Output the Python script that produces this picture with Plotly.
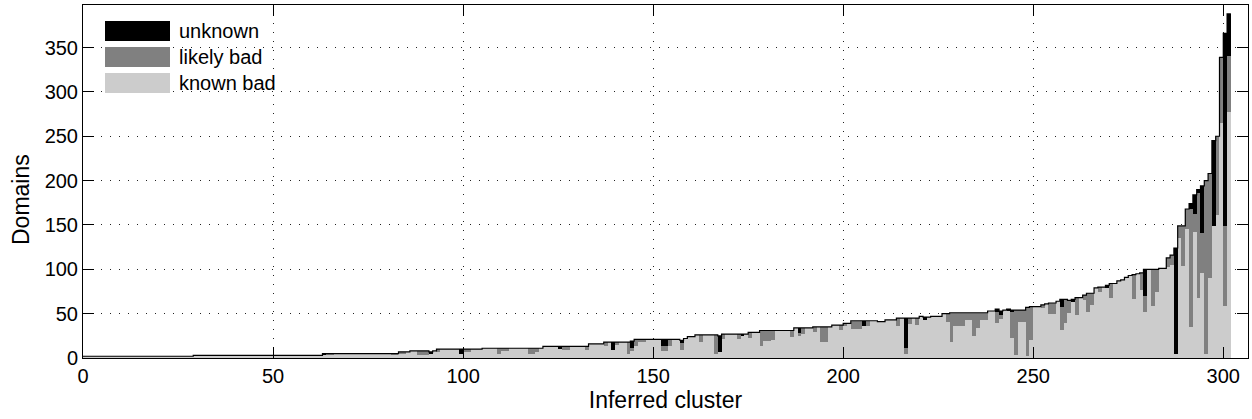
import plotly.graph_objects as go

# ---------------- data ----------------
# clusters are sorted by their total number of domains; cluster k spans [k, k+1]
n_clusters = 302
cluster_ids = list(range(n_clusters))

known_bad = [
    2, 2, 2, 2, 2, 2, 2, 2, 2, 2, 2, 2, 2, 2, 2, 2, 2, 2, 2, 2,
    2, 2, 2, 2, 2, 2, 2, 2, 2, 3, 3, 3, 3, 3, 3, 3, 3, 3, 3, 3,
    3, 3, 3, 3, 3, 3, 3, 3, 3, 3, 3, 3, 3, 3, 3, 3, 3, 3, 3, 3,
    3, 3, 3, 4, 4, 4, 5, 5, 5, 5, 5, 5, 5, 5, 5, 5, 5, 5, 5, 5,
    5, 4, 4, 5, 5, 7, 8, 8, 3, 3, 3, 5, 8, 7, 10, 10, 10, 10, 10, 5,
    7, 7, 10, 10, 10, 11, 11, 11, 11, 4, 9, 9, 11, 11, 11, 11, 11, 4, 4, 7,
    11, 13, 13, 13, 13, 10, 9, 9, 13, 13, 13, 13, 9, 16, 16, 16, 16, 13, 18, 9,
    15, 18, 18, 5, 8, 14, 19, 19, 21, 21, 21, 21, 8, 8, 14, 21, 21, 9, 22, 24,
    24, 26, 18, 26, 26, 26, 5, 7, 21, 27, 27, 27, 21, 25, 27, 23, 29, 29, 14, 19,
    19, 20, 31, 31, 31, 31, 24, 34, 25, 27, 34, 34, 29, 35, 18, 18, 35, 37, 37, 32,
    36, 39, 33, 33, 33, 36, 36, 42, 42, 41, 41, 43, 43, 43, 36, 45, 5, 38, 45, 37,
    47, 43, 46, 47, 47, 47, 50, 41, 18, 36, 36, 36, 43, 43, 25, 34, 43, 43, 53, 53,
    40, 44, 54, 53, 22, 3, 41, 41, 2, 20, 58, 58, 56, 61, 50, 50, 64, 32, 40, 51,
    64, 48, 68, 65, 52, 60, 79, 74, 80, 80, 68, 84, 87, 88, 91, 93, 66, 95, 77, 52,
    100, 59, 74, 101, 101, 103, 105, 5, 135, 104, 145, 35, 142, 68, 96, 4, 90, 149, 161, 265,
    59, 277,
]

likely_bad = [
    0, 0, 0, 0, 0, 0, 0, 0, 0, 0, 0, 0, 0, 0, 0, 0, 0, 0, 0, 0,
    0, 0, 0, 0, 0, 0, 0, 0, 0, 0, 0, 0, 0, 0, 0, 0, 0, 0, 0, 0,
    0, 0, 0, 0, 0, 0, 0, 0, 0, 0, 0, 0, 0, 0, 0, 0, 0, 0, 0, 0,
    0, 0, 0, 0, 1, 1, 0, 0, 0, 0, 0, 0, 0, 0, 0, 0, 0, 0, 0, 0,
    0, 1, 1, 2, 2, 0, 0, 0, 5, 5, 5, 0, 0, 3, 0, 0, 0, 0, 0, 0,
    3, 3, 0, 0, 0, 0, 0, 0, 0, 7, 2, 2, 0, 0, 0, 0, 0, 7, 7, 4,
    0, 0, 0, 0, 0, 0, 4, 4, 0, 0, 0, 0, 4, 0, 0, 0, 0, 5, 0, 0,
    3, 0, 0, 13, 3, 7, 2, 2, 0, 0, 0, 0, 6, 6, 7, 0, 0, 8, 0, 0,
    0, 0, 8, 0, 0, 0, 21, 0, 6, 0, 0, 0, 6, 0, 0, 6, 0, 0, 17, 12,
    12, 11, 0, 0, 0, 0, 7, 0, 3, 7, 0, 0, 6, 0, 17, 17, 0, 0, 0, 5,
    3, 0, 9, 9, 9, 0, 6, 0, 0, 0, 0, 0, 0, 0, 9, 0, 6, 7, 0, 8,
    0, 0, 0, 0, 0, 0, 0, 9, 33, 15, 15, 15, 8, 8, 26, 17, 8, 8, 0, 0,
    12, 5, 0, 0, 30, 51, 13, 13, 55, 38, 0, 0, 4, 0, 12, 12, 0, 26, 26, 14,
    0, 20, 0, 6, 21, 13, 0, 6, 0, 0, 16, 0, 0, 0, 0, 0, 28, 0, 19, 18,
    0, 41, 26, 0, 0, 10, 11, 0, 14, 45, 23, 133, 20, 118, 45, 196, 118, 0, 89, 74,
    90, 64,
]

unknown = [
    0, 0, 0, 0, 0, 0, 0, 0, 0, 0, 0, 0, 0, 0, 0, 0, 0, 0, 0, 0,
    0, 0, 0, 0, 0, 0, 0, 0, 0, 0, 0, 0, 0, 0, 0, 0, 0, 0, 0, 0,
    0, 0, 0, 0, 0, 0, 0, 0, 0, 0, 0, 0, 0, 0, 0, 0, 0, 0, 0, 0,
    0, 0, 0, 1, 0, 0, 0, 0, 0, 0, 0, 0, 0, 0, 0, 0, 0, 0, 0, 0,
    0, 0, 0, 0, 0, 0, 0, 0, 0, 0, 0, 2, 0, 0, 0, 0, 0, 0, 0, 5,
    0, 0, 0, 0, 0, 0, 0, 0, 0, 0, 0, 0, 0, 0, 0, 0, 0, 0, 0, 0,
    0, 0, 0, 0, 0, 3, 0, 0, 0, 0, 0, 0, 0, 0, 0, 0, 0, 0, 0, 9,
    0, 0, 0, 0, 8, 0, 0, 0, 0, 0, 0, 0, 7, 7, 0, 0, 0, 3, 0, 0,
    0, 0, 0, 0, 0, 0, 0, 18, 0, 0, 0, 0, 0, 2, 0, 0, 0, 0, 0, 0,
    0, 0, 0, 0, 0, 0, 0, 0, 6, 0, 0, 0, 0, 0, 0, 0, 0, 0, 0, 0,
    0, 0, 0, 0, 0, 6, 0, 0, 0, 0, 0, 0, 0, 0, 0, 0, 34, 0, 0, 0,
    0, 3, 0, 0, 0, 0, 0, 0, 0, 0, 0, 0, 0, 0, 0, 0, 0, 0, 0, 0,
    3, 4, 0, 2, 2, 0, 0, 0, 0, 0, 0, 0, 0, 0, 0, 0, 0, 8, 0, 0,
    2, 0, 0, 0, 0, 0, 0, 0, 0, 2, 0, 0, 0, 0, 0, 0, 0, 0, 0, 30,
    0, 0, 0, 0, 0, 0, 0, 119, 0, 0, 0, 6, 22, 4, 53, 0, 0, 96, 0, 0,
    217, 47,
]

series_names = ["known bad", "likely bad", "unknown"]
series_colors = ["#cccccc", "#808080", "#000000"]
legend_order = ["unknown", "likely bad", "known bad"]

x_ticks = [0, 50, 100, 150, 200, 250, 300]
y_ticks = [0, 50, 100, 150, 200, 250, 300, 350]
x_title = "Inferred cluster"
y_title = "Domains"

# ---------------- figure ----------------
W, H = 1252, 419
M_L, M_R, M_T, M_B = 83, 4, 5, 61
PLOT_W = W - M_L - M_R
PLOT_H = H - M_T - M_B
FONT = "Liberation Sans, Arial, Helvetica, sans-serif"

fig = go.Figure()
x_centers = [c + 0.5 for c in cluster_ids]
values = [known_bad, likely_bad, unknown]
for name, vals, color in zip(series_names, values, series_colors):
    fig.add_trace(go.Bar(
        x=x_centers, y=vals, width=1, name=name,
        marker=dict(color=color, line=dict(width=0)),
        showlegend=False,
    ))

# outline of the stacked totals (stairs)
totals = [a + b + c for a, b, c in zip(known_bad, likely_bad, unknown)]
fig.add_trace(go.Scatter(
    x=cluster_ids + [n_clusters], y=totals + [totals[-1]],
    mode="lines", line=dict(color="black", width=1.2, shape="hv"),
    hoverinfo="skip", showlegend=False,
))

# legend drawn as wide MATLAB-style swatches
def px_to_paper_x(px):
    return (px - M_L) / PLOT_W

def py_to_paper_y(py):
    return (H - M_B - py) / PLOT_H

shapes, annotations = [], []
for k, name in enumerate(legend_order):
    color = series_colors[series_names.index(name)]
    yc = 31 + 26 * k
    shapes.append(dict(
        type="rect", xref="paper", yref="paper",
        x0=px_to_paper_x(105), x1=px_to_paper_x(170),
        y0=py_to_paper_y(yc + 10), y1=py_to_paper_y(yc - 10),
        fillcolor=color, line=dict(width=0), layer="above",
    ))
    annotations.append(dict(
        xref="paper", yref="paper", x=px_to_paper_x(177), y=py_to_paper_y(yc),
        xanchor="left", yanchor="middle", text=name, showarrow=False,
        font=dict(size=20, color="black", family=FONT),
    ))

# y-axis title placed like the MATLAB ylabel
annotations.append(dict(
    xref="paper", yref="paper", x=px_to_paper_x(21), y=py_to_paper_y(200),
    xanchor="center", yanchor="middle", text=y_title, textangle=-90,
    showarrow=False, font=dict(size=23, color="black", family=FONT),
))

axis_common = dict(
    ticks="inside", ticklen=11, tickwidth=1, tickcolor="black",
    mirror="allticks", showline=True, linecolor="black", linewidth=1,
    showgrid=True, gridcolor="#222222", gridwidth=1, griddash="1px,8px",
    zeroline=False, tickfont=dict(size=20, color="black", family=FONT),
)

fig.update_layout(
    width=W, height=H,
    margin=dict(l=M_L, r=M_R, t=M_T, b=M_B, pad=0),
    paper_bgcolor="white", plot_bgcolor="white",
    barmode="stack", bargap=0,
    font=dict(family=FONT, color="black"),
    xaxis=dict(range=[0, 306.5], tickvals=x_ticks, **axis_common,
               title=dict(text=x_title, font=dict(size=23, color="black"), standoff=3)),
    yaxis=dict(range=[0, 398], tickvals=y_ticks, **axis_common),
    shapes=shapes, annotations=annotations,
)

fig.write_html("out.html")
